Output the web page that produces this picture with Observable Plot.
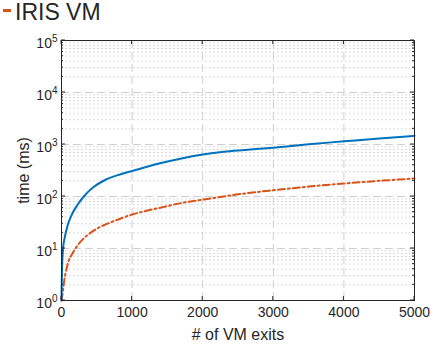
<!DOCTYPE html>
<html><head><meta charset="utf-8">
<script src="https://cdn.jsdelivr.net/npm/d3@7"></script>
<script src="https://cdn.jsdelivr.net/npm/@observablehq/plot@0.6"></script>
<style>
body{margin:0;background:#fff;}
#wrap{position:relative;width:438px;height:344px;font-family:"Liberation Sans",Arial,sans-serif;}
#legend{position:absolute;left:0;top:0;height:24px;display:flex;align-items:center;font-size:23px;color:#262626;line-height:1;}
#legend .sw{display:inline-block;width:8px;height:3px;background:#D95319;margin:0 4px 0 3px;position:relative;top:-2px;}
#chart{position:absolute;left:0;top:0;}
#chart svg text{font-family:"Liberation Sans",Arial,sans-serif;fill:#262626;}
</style></head>
<body><div id="wrap"><div id="chart"></div><div id="legend"><span class="sw"></span>IRIS VM</div></div>
<script>
const nativeExits = [0, 5, 12, 22, 45, 80, 150, 230, 316, 450, 623, 800, 1000, 1200, 1426, 1700, 2000, 2300, 2600, 3000, 3500, 4000, 4500, 5000];
const nativeTime = [1, 3, 6, 10, 16, 26, 46, 70, 100, 150, 210, 258, 310, 370, 445, 540, 640, 725, 785, 870, 1010, 1150, 1310, 1470];
const irisExits = [0, 20, 40, 57, 104, 150, 198, 300, 400, 500, 600, 800, 1000, 1200, 1426, 1700, 2000, 2500, 3000, 3500, 4000, 4500, 5000];
const irisTime = [1, 1.5, 2.5, 3.3, 5.9, 7.8, 10, 15, 19.5, 24, 28, 36, 45, 53, 62, 75, 87, 110, 132, 155, 178, 200, 222];
const xTicks = [0, 1000, 2000, 3000, 4000, 5000];
const yTicks = [1, 10, 100, 1000, 10000, 100000];
const yTickBase = "10";
const yTickExponents = ["0", "1", "2", "3", "4", "5"];
const seriesNames = ["native", "IRIS VM"];

const nativeRows = nativeExits.map((x, i) => ({x, y: nativeTime[i], s: seriesNames[0]}));
const irisRows = irisExits.map((x, i) => ({x, y: irisTime[i], s: seriesNames[1]}));
const minorY = [];
for (let d = 1; d < 100000; d *= 10) for (let k = 2; k <= 9; k++) minorY.push(d * k);

const axisColor = "#262626";
const chart = Plot.plot({
  width: 438, height: 344,
  marginLeft: 61, marginRight: 24, marginTop: 40, marginBottom: 44,
  style: {fontFamily: "'Liberation Sans', Arial, sans-serif", fontSize: "14px", color: axisColor, background: "transparent"},
  x: {domain: [0, 5000]},
  y: {type: "log", domain: [1, 100000]},
  marks: [
    Plot.ruleY(minorY, {stroke: "#d0d0d0", strokeDasharray: "1.5,2.5", strokeWidth: 1}),
    Plot.ruleY(yTicks.slice(1, -1), {stroke: "#cfcfcf", strokeDasharray: "8,4", strokeWidth: 1}),
    Plot.ruleX(xTicks.slice(1, -1), {stroke: "#cfcfcf", strokeDasharray: "8,4", strokeWidth: 1}),
    Plot.line(irisRows, {x: "x", y: "y", stroke: "#D95319", strokeWidth: 2, strokeDasharray: "7,3,2,3", curve: "monotone-x"}),
    Plot.line(nativeRows, {x: "x", y: "y", stroke: "#0072BD", strokeWidth: 2, curve: "monotone-x"}),
    Plot.frame({stroke: axisColor, strokeWidth: 1}),
    Plot.axisX({ticks: xTicks, tickSize: 0, tickPadding: 7, fontSize: 14, tickFormat: d => String(d), label: null}),
    Plot.axisX({ticks: [], tickSize: 0, fontSize: 16, label: "# of VM exits", labelAnchor: "center", labelArrow: "none", labelOffset: 39}),
    Plot.axisY({ticks: yTicks, tickSize: 0, tickPadding: 4, fontSize: 14, dy: 3, tickFormat: (d) => yTickBase + "|" + yTickExponents[yTicks.indexOf(d)], label: null}),
    Plot.axisY({ticks: [], tickSize: 0, fontSize: 16, label: "time (ms)", labelAnchor: "center", labelArrow: "none", labelOffset: 44})
  ]
});
document.getElementById("chart").append(chart);

// superscript exponents for the log tick labels
d3.select(chart).selectAll("text").each(function () {
  const t = d3.select(this);
  const tx = t.text();
  if (tx.includes("|") && !t.select("tspan").size()) {
    const [b, e] = tx.split("|");
    t.text(b);
    t.append("tspan").attr("dy", "-0.55em").attr("font-size", "10px").text(e);
  }
});
d3.select(chart).selectAll("tspan").each(function () {
  const t = d3.select(this);
  const tx = t.text();
  if (tx.includes("|")) {
    const [b, e] = tx.split("|");
    t.text(b);
    d3.select(this.parentNode).append("tspan").attr("dy", "-0.55em").attr("font-size", "10px").text(e);
  }
});

// inward tick marks positioned through the chart's own scales
const svg = d3.select(chart);
const xs = chart.scale("x"), ys = chart.scale("y");
const g = svg.append("g").attr("stroke", axisColor).attr("stroke-width", 1);
const yTop = ys.apply(100000), yBot = ys.apply(1), xLeft = xs.apply(0), xRight = xs.apply(5000);
xTicks.forEach(v => {
  const px = xs.apply(v);
  g.append("line").attr("x1", px).attr("x2", px).attr("y1", yBot).attr("y2", yBot - 4);
  g.append("line").attr("x1", px).attr("x2", px).attr("y1", yTop).attr("y2", yTop + 4);
});
yTicks.forEach(v => {
  const py = ys.apply(v);
  g.append("line").attr("x1", xLeft).attr("x2", xLeft + 4).attr("y1", py).attr("y2", py);
  g.append("line").attr("x1", xRight).attr("x2", xRight - 4).attr("y1", py).attr("y2", py);
});
minorY.forEach(v => {
  const py = ys.apply(v);
  g.append("line").attr("x1", xLeft).attr("x2", xLeft + 2).attr("y1", py).attr("y2", py);
  g.append("line").attr("x1", xRight).attr("x2", xRight - 2).attr("y1", py).attr("y2", py);
});
</script></body></html>
